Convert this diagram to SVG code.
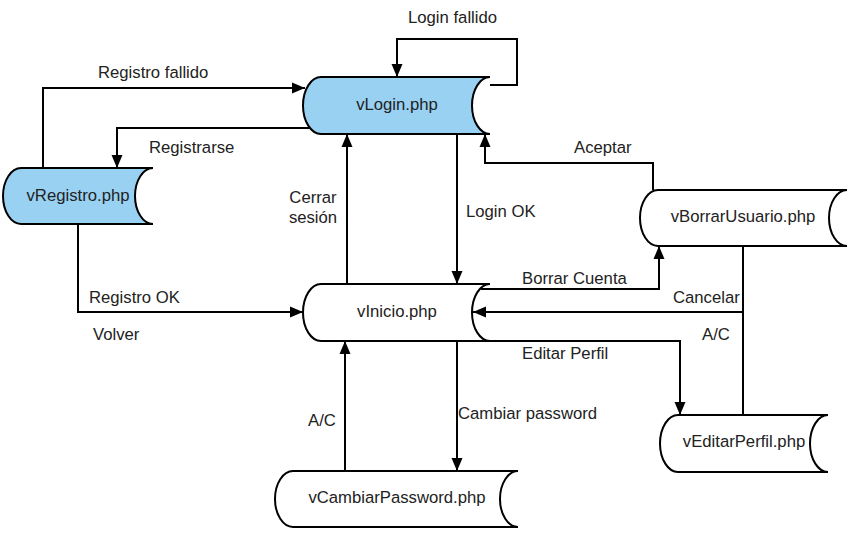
<svg xmlns="http://www.w3.org/2000/svg" width="856" height="536" viewBox="0 0 856 536">
<style>
  .node { stroke: #000; stroke-width: 2; }
  .blue { fill: #99d1f3; }
  .white { fill: #fff; }
  .lbl { font-family: "Liberation Sans", Arial, sans-serif; font-size: 16.7px; fill: #222; }
  .ntext { font-family: "Liberation Sans", Arial, sans-serif; font-size: 16.7px; fill: #222; text-anchor: middle; }
  .edge { fill: none; stroke: #000; stroke-width: 2; }
</style>
<defs>
  <marker id="arr" markerUnits="userSpaceOnUse" markerWidth="14" markerHeight="12" refX="13" refY="6" orient="auto">
    <path d="M0,0.5 L13,6 L0,11.5 Z" fill="#000"/>
  </marker>
</defs>
<rect width="856" height="536" fill="#fff"/>

<g id="connectors">
  <path class="edge" d="M 490 85 H 517 V 39 H 397 V 77" marker-end="url(#arr)"/>
  <path class="edge" d="M 43 168 V 88 H 305" marker-end="url(#arr)"/>
  <path class="edge" d="M 310 128 H 117 V 168" marker-end="url(#arr)"/>
  <path class="edge" d="M 78 224 V 312 H 303" marker-end="url(#arr)"/>
  <path class="edge" d="M 347 284 V 134" marker-end="url(#arr)"/>
  <path class="edge" d="M 457 134 V 284" marker-end="url(#arr)"/>
  <path class="edge" d="M 653 190 V 163 H 485 V 134" marker-end="url(#arr)"/>
  <path class="edge" d="M 481 289 H 659 V 246" marker-end="url(#arr)"/>
  <path class="edge" d="M 743 246 V 415"/>
  <path class="edge" d="M 743 312 H 473" marker-end="url(#arr)"/>
  <path class="edge" d="M 486 341 H 680 V 415" marker-end="url(#arr)"/>
  <path class="edge" d="M 457 341 V 471" marker-end="url(#arr)"/>
  <path class="edge" d="M 345 471 V 341" marker-end="url(#arr)"/>
</g>

<g id="vLogin">
  <path class="node blue" d="M 321 77 H 490 A 18 28.5 0 0 0 490 134 H 321 A 18 28.5 0 0 1 321 77 Z"/>
  <text class="ntext" x="397" y="110">vLogin.php</text>
</g>
<g id="vRegistro">
  <path class="node blue" d="M 21 168 H 153 A 18 28 0 0 0 153 224 H 21 A 18 28 0 0 1 21 168 Z"/>
  <text class="ntext" x="78" y="201">vRegistro.php</text>
</g>
<g id="vInicio">
  <path class="node white" d="M 321 284 H 490 A 18 28.5 0 0 0 490 341 H 321 A 18 28.5 0 0 1 321 284 Z"/>
  <text class="ntext" x="397" y="317">vInicio.php</text>
</g>
<g id="vCambiarPassword">
  <path class="node white" d="M 293 471 H 518 A 18 28 0 0 0 518 527 H 293 A 18 28 0 0 1 293 471 Z"/>
  <text class="ntext" x="397" y="503">vCambiarPassword.php</text>
</g>
<g id="vBorrarUsuario">
  <path class="node white" d="M 658 190 H 847 A 18 28 0 0 0 847 246 H 658 A 18 28 0 0 1 658 190 Z"/>
  <text class="ntext" x="743" y="222">vBorrarUsuario.php</text>
</g>
<g id="vEditarPerfil">
  <path class="node white" d="M 678 415 H 828 A 18 28.5 0 0 0 828 472 H 678 A 18 28.5 0 0 1 678 415 Z"/>
  <text class="ntext" x="744" y="447">vEditarPerfil.php</text>
</g>

<g id="labels">
  <text class="lbl" x="408" y="23">Login fallido</text>
  <text class="lbl" x="98" y="78">Registro fallido</text>
  <text class="lbl" x="149" y="153">Registrarse</text>
  <text class="lbl" x="313" y="203" text-anchor="middle">Cerrar</text>
  <text class="lbl" x="313" y="223" text-anchor="middle">sesión</text>
  <text class="lbl" x="466" y="217">Login OK</text>
  <text class="lbl" x="574" y="153">Aceptar</text>
  <text class="lbl" x="522" y="284">Borrar Cuenta</text>
  <text class="lbl" x="673" y="303">Cancelar</text>
  <text class="lbl" x="702" y="340">A/C</text>
  <text class="lbl" x="522" y="359">Editar Perfil</text>
  <text class="lbl" x="89" y="303">Registro OK</text>
  <text class="lbl" x="93" y="340">Volver</text>
  <text class="lbl" x="458" y="419">Cambiar password</text>
  <text class="lbl" x="308" y="426">A/C</text>
</g>
</svg>
